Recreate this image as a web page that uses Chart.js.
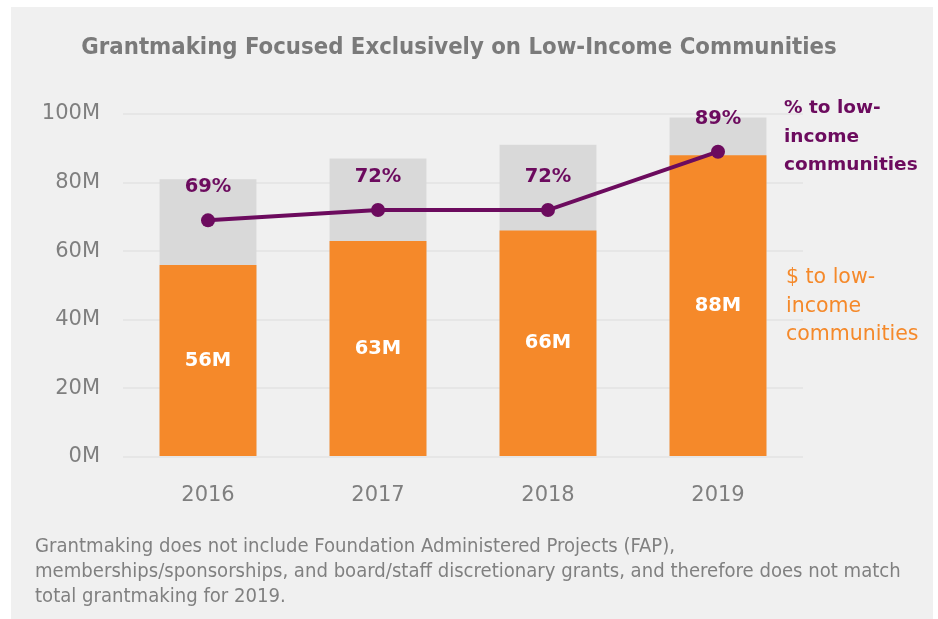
<!DOCTYPE html>
<html>
<head>
<meta charset="utf-8">
<script src="https://cdn.jsdelivr.net/npm/chart.js@4/dist/chart.umd.min.js"></script>
<style>
  html, body { margin: 0; padding: 0; background: #fff; }
  body { width: 938px; height: 619px; position: relative; overflow: hidden; }
  .panel { position: absolute; left: 11px; top: 7px; width: 922px; height: 612px; background: #f0f0f0; }
  #chart { position: absolute; left: 0; top: 0; }
  .title {
    position: absolute; left: 0; width: 918px; top: 32px; text-align: center;
    font-family: "Liberation Sans Narrow", "DejaVu Sans Condensed", sans-serif;
    font-weight: bold; font-size: 23.7px; color: #7a7a7a;
  }
  .note {
    position: absolute; left: 35px; top: 533px; width: 895px;
    font-family: "Liberation Sans Narrow", "DejaVu Sans Condensed", sans-serif;
    font-size: 20.1px; line-height: 25px; color: #808080;
  }
  .tag { position: absolute; font-family: "DejaVu Sans", sans-serif; line-height: 28.5px; }
  .tag.pct { left: 784px; top: 93px; color: #6c0b5e; font-weight: bold; font-size: 18.5px; }
  .tag.usd { left: 786px; top: 262px; color: #f5892a; font-size: 20.5px; }
</style>
</head>
<body>
<div class="panel"></div>
<canvas id="chart" width="938" height="619"></canvas>
<div class="title">Grantmaking Focused Exclusively on Low-Income Communities</div>
<div class="tag pct">% to low-<br>income<br>communities</div>
<div class="tag usd">$ to low-<br>income<br>communities</div>
<div class="note">Grantmaking does not include Foundation Administered Projects (FAP),<br>memberships/sponsorships, and board/staff discretionary grants, and therefore does not match<br>total grantmaking for 2019.</div>

<script>
// ---------- data ----------
const YEARS      = ['2016', '2017', '2018', '2019'];
const TOTAL_M    = [81, 87, 91, 99];     // all grantmaking, $M
const LOW_INC_M  = [56, 63, 66, 88];     // $ to low-income communities, $M
const PCT_LOW    = [69, 72, 72, 89];     // % to low-income communities

const Y_TICKS = [0, 20, 40, 60, 80, 100];

// colours
const ORANGE = '#f5892a';
const GREY   = '#d9d9d9';
const PURPLE = '#6c0b5e';
const AXIS   = '#7f7f7f';

// value labels: % above line points, $M inside orange bars
const valueLabels = {
  id: 'valueLabels',
  afterDatasetsDraw(chart) {
    const ctx = chart.ctx;
    ctx.save();
    ctx.textAlign = 'center';
    ctx.textBaseline = 'middle';
    ctx.font = 'bold 19.5px "DejaVu Sans", sans-serif';

    const bars = chart.getDatasetMeta(1).data;
    ctx.fillStyle = '#ffffff';
    bars.forEach((bar, i) => {
      ctx.fillText(LOW_INC_M[i] + 'M', bar.x, (bar.y + bar.base) / 2);
    });

    const pts = chart.getDatasetMeta(0).data;
    ctx.fillStyle = PURPLE;
    pts.forEach((p, i) => {
      ctx.fillText(PCT_LOW[i] + '%', p.x, p.y - 33);
    });
    ctx.restore();
  }
};

new Chart(document.getElementById('chart'), {
  data: {
    labels: YEARS,
    datasets: [
      {
        type: 'line',
        label: '% to low-income communities',
        data: PCT_LOW,
        borderColor: PURPLE,
        backgroundColor: PURPLE,
        borderWidth: 4,
        pointRadius: 7,
        pointBackgroundColor: PURPLE,
        pointBorderWidth: 0,
        order: 0,
      },
      {
        type: 'bar',
        label: '$ to low-income communities',
        data: LOW_INC_M,
        backgroundColor: ORANGE,
        grouped: false,
        barPercentage: 0.57,
        categoryPercentage: 1,
        order: 1,
      },
      {
        type: 'bar',
        label: 'Total grantmaking',
        data: TOTAL_M,
        backgroundColor: GREY,
        grouped: false,
        barPercentage: 0.57,
        categoryPercentage: 1,
        order: 2,
      },
    ]
  },
  options: {
    responsive: false,
    animation: false,
    layout: { padding: { left: 0, top: 114, right: 135, bottom: 102 } },
    plugins: {
      legend: { display: false },
      tooltip: { enabled: false },
    },
    scales: {
      x: {
        grid: { display: false },
        border: { display: false },
        ticks: { color: AXIS, padding: 18, font: { family: '"DejaVu Sans", sans-serif', size: 21 } },
        afterFit: (s) => { s.height = 60; },
      },
      y: {
        min: 0,
        max: 100,
        afterBuildTicks: (s) => { s.ticks = Y_TICKS.map(v => ({ value: v })); },
        grid: { color: '#e6e6e6', lineWidth: 2, drawTicks: false },
        border: { display: false },
        ticks: {
          color: AXIS, padding: 23,
          font: { family: '"DejaVu Sans", sans-serif', size: 21 },
          callback: (v) => v + 'M',
        },
        afterFit: (s) => { s.width = 123; },
      }
    }
  },
  plugins: [valueLabels]
});
</script>
</body>
</html>
